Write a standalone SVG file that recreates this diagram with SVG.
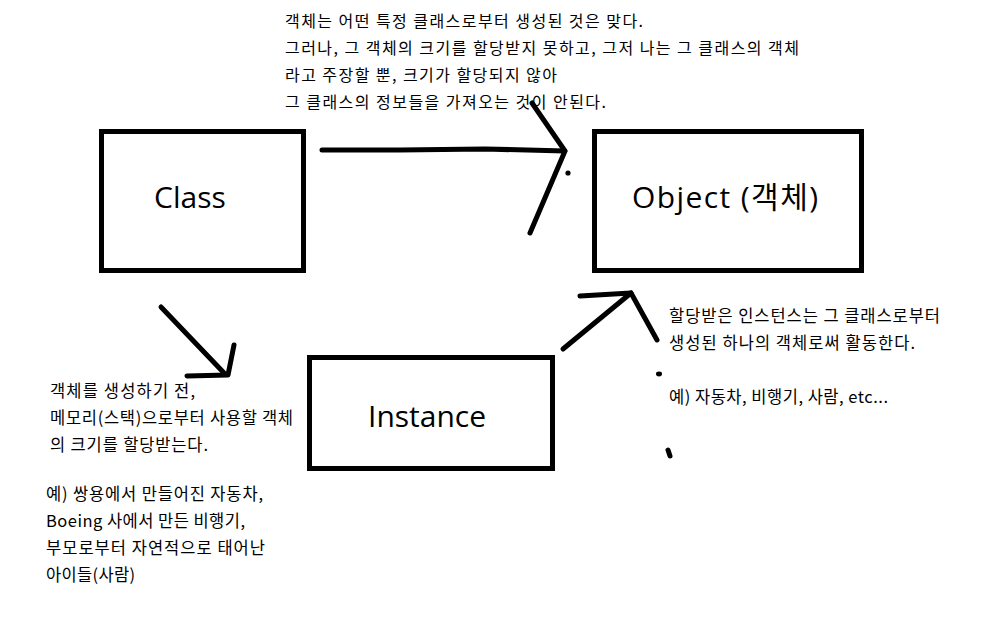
<svg xmlns="http://www.w3.org/2000/svg" width="1008" height="630" viewBox="0 0 1008 630">
<style>
.box{fill:#fff;stroke:#000;stroke-width:5}
.lbl{font-family:"Open Sans","Noto Sans CJK KR",sans-serif;font-size:30px;fill:#000}
.note{font-family:"Noto Sans CJK KR","Open Sans",sans-serif;fill:#000}
.top{font-size:16px}
.side{font-size:16.5px}
.stroke{fill:none;stroke:#000;stroke-width:5;stroke-linecap:round;stroke-linejoin:round}
</style>
<rect width="1008" height="630" fill="#fff"/>
<g id="class"><rect class="box" x="101.5" y="131.5" width="202" height="139"/><text class="lbl" x="154" y="208">Class</text></g>
<g id="object"><rect class="box" x="594.5" y="131.5" width="267" height="139"/><text class="lbl" x="632" y="208" textLength="186">Object (객체)</text></g>
<g id="instance"><rect class="box" x="309.5" y="357.5" width="243" height="111"/><text class="lbl" x="368" y="427">Instance</text></g>
<g id="connectors">
<polyline class="stroke" points="322,150 400,150 485,149 565,151"/>
<polyline class="stroke" points="532,103 565,151 530,233"/>
<circle cx="568" cy="173" r="2.6" fill="#000"/>
<polyline class="stroke" points="161,307 225,374"/>
<polyline class="stroke" points="187,376 228,375 234,345"/>
<polyline class="stroke" points="563,349 631,293"/>
<polyline class="stroke" points="580,296 631,293 657,340"/>
<ellipse cx="659" cy="374" rx="3" ry="2.4" fill="#000"/>
<line class="stroke" x1="668" y1="450" x2="670" y2="456" stroke-width="4"/>
</g>
<g id="note-top" class="note top">
<text x="285" y="27" textLength="358">객체는 어떤 특정 클래스로부터 생성된 것은 맞다.</text>
<text x="285" y="54" textLength="514">그러나, 그 객체의 크기를 할당받지 못하고, 그저 나는 그 클래스의 객체</text>
<text x="285" y="81" textLength="272">라고 주장할 뿐, 크기가 할당되지 않아</text>
<text x="285" y="108" textLength="321">그 클래스의 정보들을 가져오는 것이 안된다.</text>
</g>
<g id="note-left" class="note side">
<text x="50" y="397" textLength="145">객체를 생성하기 전,</text>
<text x="50" y="424" textLength="243">메모리(스택)으로부터 사용할 객체</text>
<text x="50" y="451" textLength="158">의 크기를 할당받는다.</text>
<text x="46" y="500" textLength="217">예) 쌍용에서 만들어진 자동차,</text>
<text x="46" y="527" textLength="199">Boeing 사에서 만든 비행기,</text>
<text x="46" y="554" textLength="219">부모로부터 자연적으로 태어난</text>
<text x="46" y="581" textLength="89">아이들(사람)</text>
</g>
<g id="note-right" class="note side">
<text x="669" y="322" textLength="271">할당받은 인스턴스는 그 클래스로부터</text>
<text x="669" y="349" textLength="246">생성된 하나의 객체로써 활동한다.</text>
<text x="669" y="403" textLength="219">예) 자동차, 비행기, 사람, etc...</text>
</g>
</svg>
